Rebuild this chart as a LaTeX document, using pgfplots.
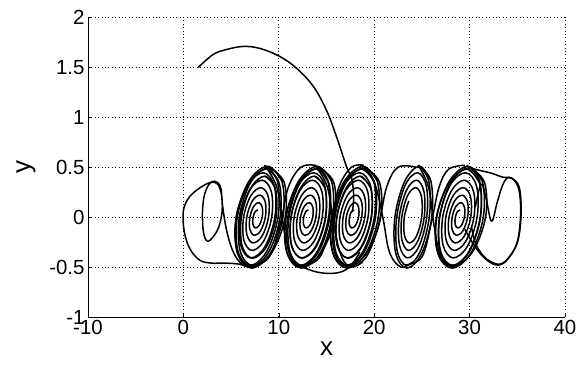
\documentclass[border=0pt]{standalone}
\usepackage{pgfplots}
\pgfplotsset{compat=1.18}
\usepackage{fontspec}
\setmainfont{Liberation Sans}
\begin{document}
\begin{tikzpicture}
\begin{axis}[
  at={(0,0)}, anchor=south west,
  scale only axis, width=477bp, height=299.5bp,
  xmin=-10, xmax=40, ymin=-1, ymax=2,
  xtick={-10,0,10,20,30,40},
  ytick={-1,-0.5,0,0.5,1,1.5,2},
  axis lines*=left,
  axis line style={black, line width=0.6bp},
  tick align=inside,
  major tick length=4bp,
  tick style={black, line width=0.5bp},
  grid=major,
  grid style={black, line width=0.6bp, dash pattern=on 0.8bp off 2.6bp},
  /pgf/number format/assume math mode=true,
  ticklabel style={font=\fontsize{20.5}{22}\selectfont},
  label style={font=\fontsize{26}{28}\selectfont},
  xlabel={x}, ylabel={y},
  ylabel style={at={(axis description cs:-0.13,0.5)}, anchor=center},
  clip=true,
  traj/.style={black, solid, no markers, line width=1.5bp, smooth, tension=0.6, line join=round},
]
% initial transient
\addplot[traj] coordinates {(1.56,1.50) (3.13,1.63) (4.54,1.68) (6.28,1.71) (8.03,1.69) (10.1,1.61) (11.88,1.49) (13.62,1.31) (15.0,1.07) (16.07,0.80) (17.12,0.50) (17.64,0.39) (17.85,0.2) (17.7,0.05)};
% left loop
\addplot[traj] coordinates {(7.8,-0.48) (6.9,-0.5) (5.8,-0.47) (4.3,-0.46) (2.9,-0.46) (1.7,-0.43) (0.7,-0.32) (0.1,-0.15) (-0.02,0.05) (0.4,0.17) (1.0,0.24) (2.0,0.31) (2.9,0.35) (3.6,0.33) (4.0,0.22) (4.05,0.05) (3.7,-0.1) (3.1,-0.2) (2.5,-0.24) (2.1,-0.15) (2.0,0.05) (2.2,0.22) (2.7,0.33) (3.3,0.36) (3.9,0.3) (4.1,0.12) (4.5,-0.12) (5.1,-0.32) (5.9,-0.45) (6.9,-0.5) (7.8,-0.48)};
% spiral A
\addplot[traj] coordinates {(8.500,0.520) (9.853,0.361) (9.917,0) (8.704,-0.348) (6.958,-0.483) (5.705,-0.335) (5.648,0) (6.773,0.322)
(8.385,0.445) (9.537,0.308) (9.586,0) (8.551,-0.295) (7.073,-0.408) (6.021,-0.282) (5.980,0) (6.925,0.269)
(8.270,0.370) (9.221,0.255) (9.255,0) (8.398,-0.242) (7.188,-0.333) (6.337,-0.229) (6.311,0) (7.078,0.216)
(8.154,0.295) (8.906,0.202) (8.924,0) (8.245,-0.189) (7.303,-0.258) (6.652,-0.176) (6.642,0) (7.231,0.163)
(8.039,0.220) (8.590,0.149) (8.592,0) (8.093,-0.136) (7.418,-0.183) (6.968,-0.123) (6.973,0) (7.384,0.110)
(7.924,0.146) (8.274,0.096) (8.261,0) (7.940,-0.083) (7.534,-0.108) (7.284,-0.070) (7.304,0) (7.537,0.057)
(7.809,0.071)};
\addplot[traj] coordinates {(8.996,0.494) (10.555,0.350) (10.676,0) (9.288,-0.350) (7.204,-0.494) (5.645,-0.350) (5.524,0) (6.912,0.350) (8.996,0.494) (10.555,0.350)};
\addplot[traj] coordinates {(8.848,0.510) (10.324,0.361) (10.438,0) (9.125,-0.361) (7.152,-0.510) (5.676,-0.361) (5.562,0) (6.875,0.361) (8.848,0.510) (10.324,0.361)};
\addplot[traj] coordinates {(8.744,0.484) (10.039,0.342) (10.139,0) (8.987,-0.342) (7.256,-0.484) (5.961,-0.342) (5.861,0) (7.013,0.342) (8.744,0.484) (10.039,0.342)};
\addplot[traj] coordinates {(8.532,0.411) (9.632,0.291) (9.717,0) (8.738,-0.291) (7.268,-0.411) (6.168,-0.291) (6.083,0) (7.062,0.291) (8.532,0.411) (9.632,0.291)};
% spiral B
\addplot[traj] coordinates {(13.800,0.520) (15.153,0.361) (15.217,0) (14.004,-0.348) (12.258,-0.483) (11.005,-0.335) (10.948,0) (12.073,0.322)
(13.685,0.445) (14.837,0.308) (14.886,0) (13.851,-0.295) (12.373,-0.408) (11.321,-0.282) (11.280,0) (12.225,0.269)
(13.570,0.370) (14.521,0.255) (14.555,0) (13.698,-0.242) (12.488,-0.333) (11.637,-0.229) (11.611,0) (12.378,0.216)
(13.454,0.295) (14.206,0.202) (14.224,0) (13.545,-0.189) (12.603,-0.258) (11.952,-0.176) (11.942,0) (12.531,0.163)
(13.339,0.220) (13.890,0.149) (13.892,0) (13.393,-0.136) (12.718,-0.183) (12.268,-0.123) (12.273,0) (12.684,0.110)
(13.224,0.146) (13.574,0.096) (13.561,0) (13.240,-0.083) (12.834,-0.108) (12.584,-0.070) (12.604,0) (12.837,0.057)
(13.109,0.071)};
\addplot[traj] coordinates {(14.196,0.494) (15.755,0.350) (15.876,0) (14.488,-0.350) (12.404,-0.494) (10.845,-0.350) (10.724,0) (12.112,0.350) (14.196,0.494) (15.755,0.350)};
\addplot[traj] coordinates {(14.048,0.510) (15.524,0.361) (15.638,0) (14.325,-0.361) (12.352,-0.510) (10.876,-0.361) (10.762,0) (12.075,0.361) (14.048,0.510) (15.524,0.361)};
\addplot[traj] coordinates {(13.944,0.484) (15.239,0.342) (15.339,0) (14.187,-0.342) (12.456,-0.484) (11.161,-0.342) (11.061,0) (12.213,0.342) (13.944,0.484) (15.239,0.342)};
\addplot[traj] coordinates {(13.732,0.411) (14.832,0.291) (14.917,0) (13.938,-0.291) (12.468,-0.411) (11.368,-0.291) (11.283,0) (12.262,0.291) (13.732,0.411) (14.832,0.291)};
% spiral C
\addplot[traj] coordinates {(18.600,0.520) (19.953,0.361) (20.017,0) (18.804,-0.348) (17.058,-0.483) (15.805,-0.335) (15.748,0) (16.873,0.322)
(18.485,0.445) (19.637,0.308) (19.686,0) (18.651,-0.295) (17.173,-0.408) (16.121,-0.282) (16.080,0) (17.025,0.269)
(18.370,0.370) (19.321,0.255) (19.355,0) (18.498,-0.242) (17.288,-0.333) (16.437,-0.229) (16.411,0) (17.178,0.216)
(18.254,0.295) (19.006,0.202) (19.024,0) (18.345,-0.189) (17.403,-0.258) (16.752,-0.176) (16.742,0) (17.331,0.163)
(18.139,0.220) (18.690,0.149) (18.692,0) (18.193,-0.136) (17.518,-0.183) (17.068,-0.123) (17.073,0) (17.484,0.110)
(18.024,0.146) (18.374,0.096) (18.361,0) (18.040,-0.083) (17.634,-0.108) (17.384,-0.070) (17.404,0) (17.637,0.057)
(17.909,0.071)};
\addplot[traj] coordinates {(18.996,0.494) (20.555,0.350) (20.676,0) (19.288,-0.350) (17.204,-0.494) (15.645,-0.350) (15.524,0) (16.912,0.350) (18.996,0.494) (20.555,0.350)};
\addplot[traj] coordinates {(18.848,0.510) (20.324,0.361) (20.438,0) (19.125,-0.361) (17.152,-0.510) (15.676,-0.361) (15.562,0) (16.875,0.361) (18.848,0.510) (20.324,0.361)};
\addplot[traj] coordinates {(18.744,0.484) (20.039,0.342) (20.139,0) (18.987,-0.342) (17.256,-0.484) (15.961,-0.342) (15.861,0) (17.013,0.342) (18.744,0.484) (20.039,0.342)};
\addplot[traj] coordinates {(18.532,0.411) (19.632,0.291) (19.717,0) (18.738,-0.291) (17.268,-0.411) (16.168,-0.291) (16.083,0) (17.062,0.291) (18.532,0.411) (19.632,0.291)};
% spiral D
\addplot[traj] coordinates {(24.640,0.520) (25.722,0.361) (25.774,0) (24.803,-0.348) (23.406,-0.483) (22.404,-0.335) (22.358,0) (23.258,0.322)
(24.548,0.445) (25.470,0.308) (25.509,0) (24.681,-0.295) (23.498,-0.408) (22.657,-0.282) (22.624,0) (23.380,0.269)
(24.456,0.370) (25.217,0.255) (25.244,0) (24.558,-0.242) (23.590,-0.333) (22.910,-0.229) (22.889,0) (23.502,0.216)
(24.363,0.295) (24.965,0.202) (24.979,0) (24.436,-0.189) (23.682,-0.258) (23.162,-0.176) (23.154,0) (23.625,0.163)};
\addplot[traj] coordinates {(24.772,0.510) (25.941,0.361) (26.032,0) (24.991,-0.361) (23.428,-0.510) (22.259,-0.361) (22.168,0) (23.209,0.361) (24.772,0.510) (25.941,0.361)};
% spiral E
\addplot[traj] coordinates {(29.700,0.520) (31.053,0.361) (31.117,0) (29.904,-0.348) (28.158,-0.483) (26.905,-0.335) (26.848,0) (27.973,0.322)
(29.585,0.445) (30.737,0.308) (30.786,0) (29.751,-0.295) (28.273,-0.408) (27.221,-0.282) (27.180,0) (28.125,0.269)
(29.470,0.370) (30.421,0.255) (30.455,0) (29.598,-0.242) (28.388,-0.333) (27.537,-0.229) (27.511,0) (28.278,0.216)
(29.354,0.295) (30.106,0.202) (30.124,0) (29.445,-0.189) (28.503,-0.258) (27.852,-0.176) (27.842,0) (28.431,0.163)
(29.239,0.220) (29.790,0.149) (29.792,0) (29.293,-0.136) (28.618,-0.183) (28.168,-0.123) (28.173,0) (28.584,0.110)
(29.124,0.146) (29.474,0.096) (29.461,0) (29.140,-0.083) (28.734,-0.108) (28.484,-0.070) (28.504,0) (28.737,0.057)
(29.009,0.071)};
\addplot[traj] coordinates {(29.996,0.494) (31.555,0.350) (31.676,0) (30.288,-0.350) (28.204,-0.494) (26.645,-0.350) (26.524,0) (27.912,0.350) (29.996,0.494) (31.555,0.350)};
\addplot[traj] coordinates {(29.848,0.510) (31.324,0.361) (31.438,0) (30.125,-0.361) (28.152,-0.510) (26.676,-0.361) (26.562,0) (27.875,0.361) (29.848,0.510) (31.324,0.361)};
\addplot[traj] coordinates {(29.744,0.484) (31.039,0.342) (31.139,0) (29.987,-0.342) (28.256,-0.484) (26.961,-0.342) (26.861,0) (28.013,0.342) (29.744,0.484) (31.039,0.342)};
% right loop
\addplot[traj] coordinates {(29.8,0.5) (31.0,0.47) (32.3,0.44) (33.5,0.40) (34.4,0.39) (35.2,0.3) (35.4,0.05) (35.1,-0.22) (34.3,-0.38) (33.2,-0.47) (31.8,-0.42) (30.7,-0.28) (30.2,-0.1)};
\addplot[traj] coordinates {(30.6,0.1) (31.2,0.33) (31.7,0.2) (32.3,-0.04) (32.9,0.15) (33.5,0.33) (34.2,0.4) (35.1,0.3) (35.35,0.05) (35.0,-0.25) (34.0,-0.42) (33.0,-0.48) (31.8,-0.43) (30.6,-0.3) (29.5,-0.12)};
% crossing connectors
\addplot[traj] coordinates {(7.0,-0.5) (9.0,-0.4) (10.2,-0.05) (11.0,0.3) (12.3,0.5) (13.8,0.52)};
\addplot[traj] coordinates {(8.5,0.52) (9.8,0.3) (10.5,-0.1) (11.3,-0.4) (12.3,-0.5) (13.5,-0.45)};
\addplot[traj] coordinates {(12.3,-0.5) (14.3,-0.4) (15.5,-0.05) (16.3,0.3) (17.6,0.5) (18.9,0.52)};
\addplot[traj] coordinates {(13.8,0.52) (15.1,0.3) (15.8,-0.1) (16.6,-0.4) (17.6,-0.5) (18.8,-0.45)};
\addplot[traj] coordinates {(18.6,0.52) (20.0,0.35) (20.9,0.0) (21.6,-0.35) (22.8,-0.5) (24.0,-0.45)};
\addplot[traj] coordinates {(17.0,-0.48) (19.0,-0.42) (20.4,-0.1) (21.3,0.3) (22.5,0.5) (24.4,0.5)};
\addplot[traj] coordinates {(24.6,0.52) (25.7,0.3) (26.3,-0.1) (27.0,-0.4) (28.2,-0.5)};
\addplot[traj] coordinates {(23.2,-0.48) (25.0,-0.4) (26.0,-0.05) (26.8,0.3) (27.8,0.48) (29.5,0.52)};
% bottom excursion
\addplot[traj] coordinates {(12.0,-0.48) (14.0,-0.55) (16.0,-0.56) (17.4,-0.5) (18.5,-0.35)};
\end{axis}
\pgfresetboundingbox
\path (-88bp,-53bp) rectangle (494bp,317bp);
\end{tikzpicture}
\end{document}
